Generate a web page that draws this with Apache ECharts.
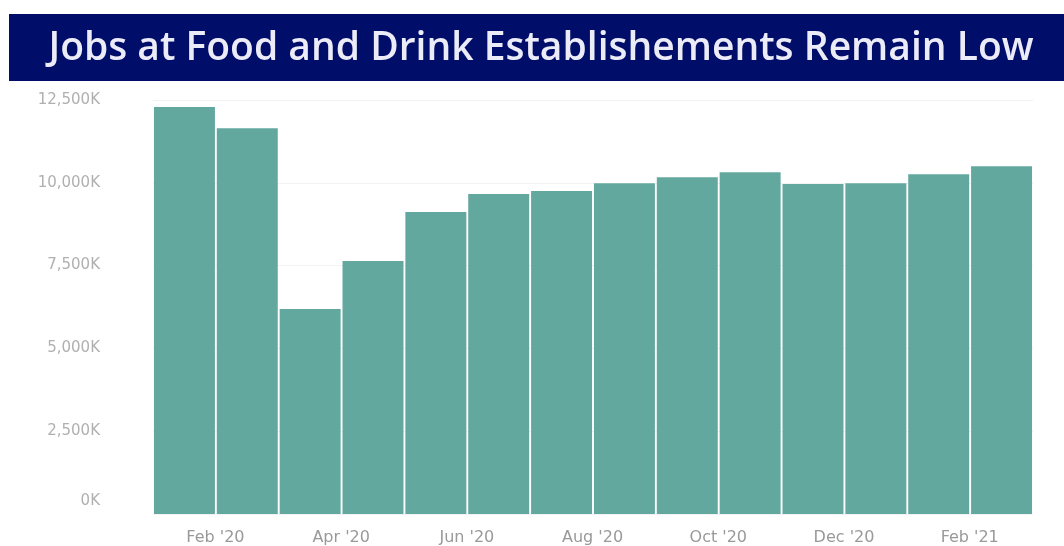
<!DOCTYPE html>
<html><head><meta charset="utf-8">
<script src="https://cdn.jsdelivr.net/npm/echarts@6/dist/echarts.min.js"></script>
<style>html,body{margin:0;padding:0;background:#fff}#c{width:1064px;height:546px}</style>
</head><body><div id="c"></div>
<script>
const titleText = "Jobs at Food and Drink Establishements Remain Low";
const months = ["Feb '20","Mar '20","Apr '20","May '20","Jun '20","Jul '20","Aug '20","Sep '20","Oct '20","Nov '20","Dec '20","Jan '21","Feb '21","Mar '21"];
const jobsK = [12290,11650,6190,7640,9120,9660,9750,9990,10170,10320,9960,9990,10260,10500];
const yTicks = [0,2500,5000,7500,10000,12500];

const chart = echarts.init(document.getElementById('c'), null, {renderer:'canvas'});
chart.setOption({
  animation:false,
  backgroundColor:'#fff',
  graphic:[
    {type:'rect', shape:{x:9,y:14,width:1055,height:67}, style:{fill:'#000e6a'}, z:0},
    {type:'text', x:541, y:49, style:{text:titleText, fill:'#ecebf8', font:'600 39px "Open Sans", "Noto Sans", sans-serif', textAlign:'center', textVerticalAlign:'middle'}, z:1}
  ],
  grid:{left:153, right:31, top:100, bottom:32, containLabel:false},
  xAxis:{
    type:'category', data:months,
    axisLine:{show:false}, axisTick:{show:false},
    axisLabel:{interval:1, color:'#999999', fontSize:16, fontFamily:'"DejaVu Sans", sans-serif', margin:16, padding:[0,0,0,62]}
  },
  yAxis:{
    type:'value', min:yTicks[0], max:yTicks[yTicks.length-1], interval:2500,
    axisLine:{show:false}, axisTick:{show:false},
    splitLine:{show:true, lineStyle:{color:'#f2f2f2', width:1}},
    axisLabel:{
      color:'#b0b0b0', fontSize:15, fontFamily:'"DejaVu Sans", sans-serif', margin:53,
      formatter:function(v){ const s = v.toLocaleString('en-US') + 'K'; return v===0 ? '{z|'+s+'}' : s; },
      rich:{z:{color:'#b0b0b0', fontSize:15, fontFamily:'"DejaVu Sans", sans-serif', padding:[0,0,26,0]}}
    }
  },
  series:[{
    type:'bar', data:jobsK, barCategoryGap:'3%',
    itemStyle:{color:'#63a89f'}
  }]
});
</script></body></html>
